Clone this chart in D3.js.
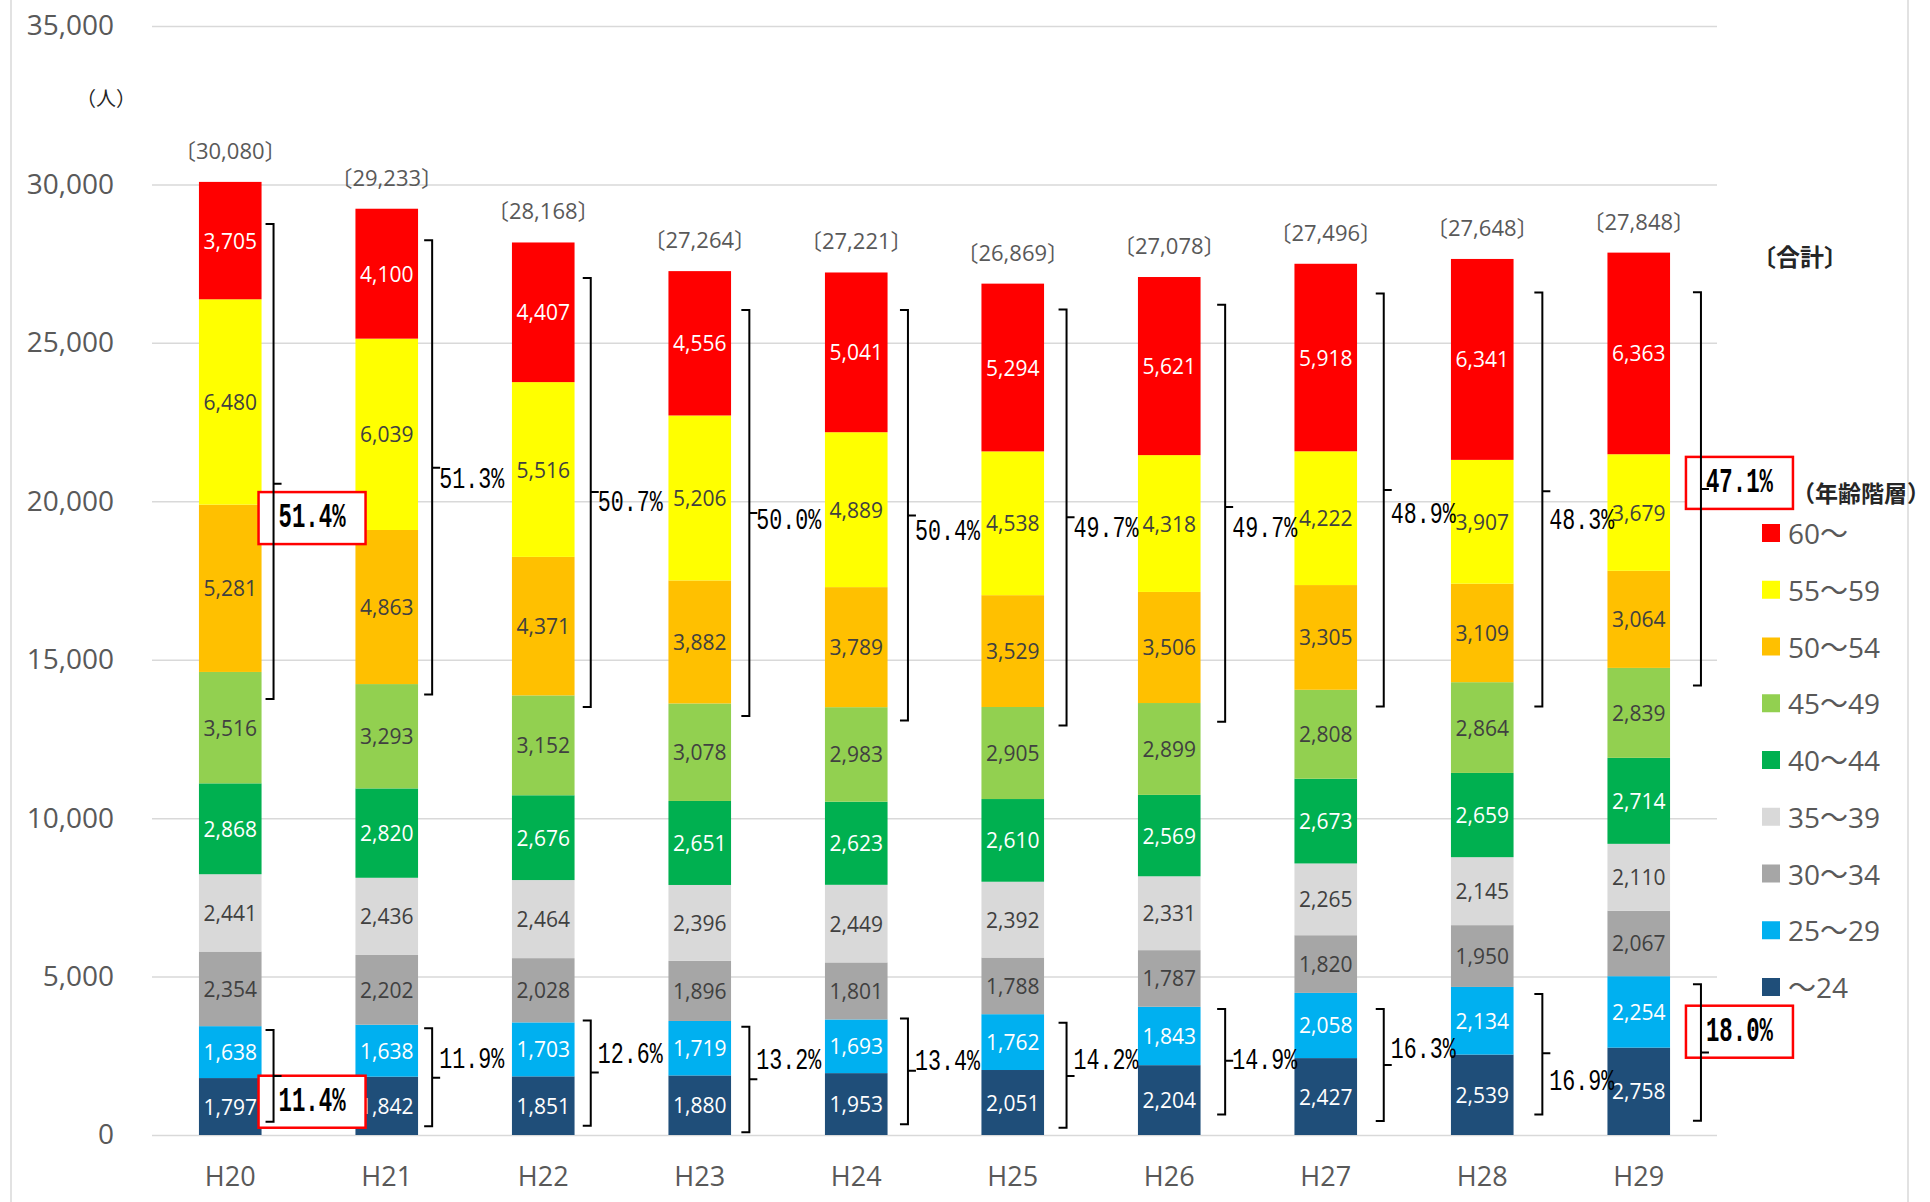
<!DOCTYPE html>
<html>
<head>
<meta charset="utf-8">
<script src="https://cdn.jsdelivr.net/npm/d3@7"></script>
<style>
  body { margin: 0; background: #fff; }
  svg { display: block; font-family: "Open Sans", "Noto Sans CJK JP", sans-serif; }
</style>
</head>
<body>
<svg id="chart"></svg>
<script>
const years = ["H20", "H21", "H22", "H23", "H24", "H25", "H26", "H27", "H28", "H29"]
// stack order, bottom to top
const ageGroups = ["～24", "25～29", "30～34", "35～39", "40～44", "45～49", "50～54", "55～59", "60～"]

const age24 = [1797, 1842, 1851, 1880, 1953, 2051, 2204, 2427, 2539, 2758]
const age25 = [1638, 1638, 1703, 1719, 1693, 1762, 1843, 2058, 2134, 2254]
const age30 = [2354, 2202, 2028, 1896, 1801, 1788, 1787, 1820, 1950, 2067]
const age35 = [2441, 2436, 2464, 2396, 2449, 2392, 2331, 2265, 2145, 2110]
const age40 = [2868, 2820, 2676, 2651, 2623, 2610, 2569, 2673, 2659, 2714]
const age45 = [3516, 3293, 3152, 3078, 2983, 2905, 2899, 2808, 2864, 2839]
const age50 = [5281, 4863, 4371, 3882, 3789, 3529, 3506, 3305, 3109, 3064]
const age55 = [6480, 6039, 5516, 5206, 4889, 4538, 4318, 4222, 3907, 3679]
const age60 = [3705, 4100, 4407, 4556, 5041, 5294, 5621, 5918, 6341, 6363]
const totals = [30080, 29233, 28168, 27264, 27221, 26869, 27078, 27496, 27648, 27848]

const yTicks = [0, 5000, 10000, 15000, 20000, 25000, 30000, 35000]

// share of 50 and over / share of under 30
const olderShare = ["51.4%", "51.3%", "50.7%", "50.0%", "50.4%", "49.7%", "49.7%", "48.9%", "48.3%", "47.1%"]
const youngShare = ["11.4%", "11.9%", "12.6%", "13.2%", "13.4%", "14.2%", "14.9%", "16.3%", "16.9%", "18.0%"]
// bracket extents (people): [top, middle tick, bottom]
const olderBracket = [[28750, 20550, 13760], [28240, 21060, 13900], [27050, 20290, 13510], [26040, 19630, 13220],
                      [26040, 19550, 13080], [26050, 19500, 12920], [26200, 19820, 13040], [26560, 20360, 13520],
                      [26590, 20320, 13520], [26600, 20390, 14190]]
const youngBracket = [[3310, 1860, 420], [3370, 1810, 280], [3610, 1970, 290], [3420, 1760, 90],
                      [3680, 2030, 340], [3540, 1860, 230], [3980, 2340, 650], [3980, 2210, 440],
                      [4450, 2580, 650], [4760, 2600, 450]]
// where each share label sits (people)
const olderLabelAt = [19470, 20670, 19950, 19390, 19030, 19130, 19130, 19570, 19390, 20580]
const youngLabelAt = [1050, 2370, 2530, 2340, 2310, 2350, 2350, 2680, 1680, 3260]
const boxedYears = ["H20", "H29"]

const colors = ["#1F4E79", "#00B0F0", "#A6A6A6", "#D9D9D9", "#00B050", "#92D050", "#FFC000", "#FFFF00", "#FF0000"]
const labelColors = ["#fff", "#fff", "#404040", "#404040", "#fff", "#404040", "#404040", "#404040", "#fff"]

function createChart() {
  const W = 1930
  const H = 1202
  const series = [age24, age25, age30, age35, age40, age45, age50, age55, age60]

  const rows = years.map(function (yr, i) {
    const row = { year: yr }
    ageGroups.forEach(function (g, k) { row[g] = series[k][i] })
    return row
  })
  const stacked = d3.stack().keys(ageGroups)(rows)

  const svg = d3.select("#chart").attr("width", W).attr("height", H)

  const x = d3.scaleBand().domain(years).range([152, 1717]).paddingInner(0.6).paddingOuter(0.3)
  const y = d3.scaleLinear().domain([0, 35000]).range([1135, 26])
  const fmt = d3.format(",")

//chart area border
  svg.append("rect")
    .attr("x", 11).attr("y", -20)
    .attr("width", 1897).attr("height", H + 40)
    .attr("fill", "none").attr("stroke", "#d9d9d9").attr("stroke-width", 1.5)

//gridlines
  svg.append("g")
    .attr("transform", "translate(152,0)")
    .call(d3.axisLeft(y).tickValues(yTicks).tickSize(-1565).tickFormat(""))
    .call(function (g) { g.select(".domain").remove() })
    .selectAll("line").attr("stroke", "#d9d9d9").attr("stroke-width", 1.5)

//y axis labels
  svg.append("g")
    .attr("transform", "translate(117,0)")
    .call(d3.axisLeft(y).tickValues(yTicks).tickSize(0).tickFormat(fmt))
    .call(function (g) { g.select(".domain").remove() })
    .selectAll("text")
    .attr("fill", "#595959").attr("font-size", 28)
    .attr("font-family", "'Open Sans', sans-serif")

//x axis labels
  svg.append("g")
    .attr("transform", "translate(0,1135)")
    .call(d3.axisBottom(x).tickSize(0).tickPadding(32))
    .call(function (g) { g.select(".domain").remove() })
    .selectAll("text")
    .attr("fill", "#595959").attr("font-size", 27)
    .attr("font-family", "'Open Sans', sans-serif")

//stacked bars
  const layers = svg.append("g").selectAll("g")
    .data(stacked)
    .enter()
    .append("g")
    .attr("fill", function (d, k) { return colors[k] })

  layers.selectAll("rect")
    .data(function (d) { return d })
    .enter()
    .append("rect")
    .attr("x", function (d) { return x(d.data.year) })
    .attr("y", function (d) { return y(d[1]) })
    .attr("width", x.bandwidth())
    .attr("height", function (d) { return y(d[0]) - y(d[1]) })

//segment values
  const valueLayers = svg.append("g").selectAll("g")
    .data(stacked)
    .enter()
    .append("g")
    .attr("fill", function (d, k) { return labelColors[k] })

  valueLayers.selectAll("text")
    .data(function (d) { return d })
    .enter()
    .append("text")
    .attr("x", function (d) { return x(d.data.year) + x.bandwidth() / 2 })
    .attr("y", function (d) { return y((d[0] + d[1]) / 2) })
    .attr("text-anchor", "middle")
    .attr("dominant-baseline", "central")
    .attr("font-size", 21)
    .text(function (d) { return fmt(d[1] - d[0]) })

//totals
  svg.append("g").selectAll("text")
    .data(totals)
    .enter()
    .append("text")
    .attr("x", function (d, i) { return x(years[i]) + x.bandwidth() / 2 })
    .attr("y", function (d) { return y(d) - 32 })
    .attr("text-anchor", "middle")
    .attr("dominant-baseline", "central")
    .attr("font-size", 22)
    .attr("fill", "#595959")
    .text(function (d) { return "〔" + fmt(d) + "〕" })

//brackets and shares
  const bracketX = function (i) { return x(years[i]) + x.bandwidth() + 12 + 2.1 * i }
  const notes = []
  years.forEach(function (yr, i) {
    notes.push({ i: i, b: olderBracket[i], at: olderLabelAt[i], text: olderShare[i], boxed: boxedYears.includes(yr) })
    notes.push({ i: i, b: youngBracket[i], at: youngLabelAt[i], text: youngShare[i], boxed: boxedYears.includes(yr) })
  })

  const boxW = 67
  svg.append("g").selectAll("rect")
    .data(notes.filter(function (n) { return n.boxed }))
    .enter()
    .append("rect")
    .attr("x", function (n) { return bracketX(n.i) + 5 - 20 })
    .attr("y", function (n) { return y(n.at) - 26 })
    .attr("width", boxW + 40)
    .attr("height", 52)
    .attr("fill", "#fff")
    .attr("stroke", "#ff0000")
    .attr("stroke-width", 2.5)

  svg.append("g").selectAll("path")
    .data(notes)
    .enter()
    .append("path")
    .attr("fill", "none")
    .attr("stroke", "#000")
    .attr("stroke-width", 2)
    .attr("d", function (n) {
      const bx = bracketX(n.i)
      return "M" + (bx - 8) + "," + y(n.b[0]) + "H" + bx + "V" + y(n.b[2]) + "H" + (bx - 8) +
             "M" + bx + "," + y(n.b[1]) + "H" + (bx + 8)
    })

  svg.append("g").selectAll("text")
    .data(notes)
    .enter()
    .append("text")
    .attr("x", function (n) { return bracketX(n.i) + (n.boxed ? 5 : 7) })
    .attr("y", function (n) { return y(n.at) })
    .attr("dominant-baseline", "central")
    .attr("font-family", "'Liberation Mono', monospace")
    .attr("font-size", function (n) { return n.boxed ? 35 : 30 })
    .attr("font-weight", function (n) { return n.boxed ? "bold" : "normal" })
    .attr("textLength", function (n) { return n.boxed ? boxW : 65 })
    .attr("lengthAdjust", "spacingAndGlyphs")
    .attr("fill", "#000")
    .text(function (n) { return n.text })

//unit and headings
  svg.append("text")
    .attr("x", 106).attr("y", 97)
    .attr("text-anchor", "middle").attr("dominant-baseline", "central")
    .attr("font-family", "'Noto Sans CJK JP', sans-serif")
    .attr("font-size", 20).attr("fill", "#262626")
    .text("（人）")

  svg.append("text")
    .attr("x", 1752).attr("y", 255)
    .attr("dominant-baseline", "central")
    .attr("font-family", "'Noto Sans CJK JP', sans-serif")
    .attr("font-size", 24).attr("font-weight", "bold").attr("fill", "#262626")
    .text("〔合計〕")

  svg.append("text")
    .attr("x", 1792).attr("y", 492)
    .attr("dominant-baseline", "central")
    .attr("font-family", "'Noto Sans CJK JP', sans-serif")
    .attr("font-size", 23).attr("font-weight", "bold").attr("fill", "#262626")
    .text("（年齢階層）")

//legend
  const legendKeys = ageGroups.slice().reverse()
  const legendColors = colors.slice().reverse()
  const legend = svg.append("g")
    .attr("id", "legend")
    .selectAll("g")
    .data(legendKeys)
    .enter()
    .append("g")
    .attr("transform", function (d, i) { return "translate(1762," + (533 + i * 56.75) + ")" })

  legend.append("rect")
    .attr("x", 0).attr("y", -9)
    .attr("width", 18).attr("height", 18)
    .attr("fill", function (d, i) { return legendColors[i] })

  legend.append("text")
    .attr("x", 26).attr("y", 0)
    .attr("dominant-baseline", "central")
    .attr("font-size", 28)
    .attr("fill", "#595959")
    .text(function (d) { return d })
}

createChart()
</script>
</body>
</html>
